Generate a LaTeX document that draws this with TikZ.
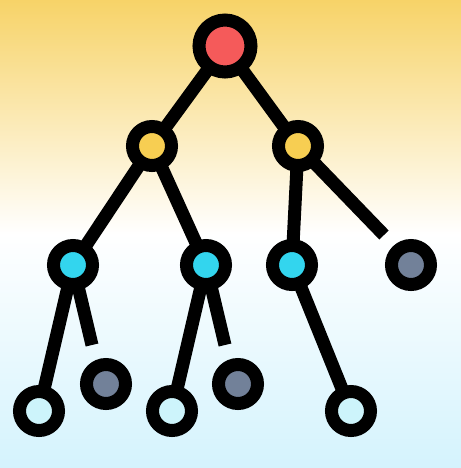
\documentclass[tikz,border=0pt]{standalone}
\usepackage{tikz}

\definecolor{topyellow}{RGB}{247,211,104}
\definecolor{lowblue}{RGB}{212,243,253}
\definecolor{rootred}{RGB}{245,90,90}
\definecolor{midyellow}{RGB}{247,206,82}
\definecolor{leafcyan}{RGB}{51,213,238}
\definecolor{leafgray}{RGB}{114,129,153}
\definecolor{palecyan}{RGB}{205,244,251}

\pgfdeclarelayer{bg}
\pgfdeclarelayer{edges}
\pgfsetlayers{bg,edges,main}

\tikzset{
   treenode/.style={circle, draw=black, line width=0.26cm, inner sep=0pt, minimum size=0.78cm},
   rootnode/.style={treenode, minimum size=1.04cm},
   branch/.style={line width=0.26cm, line cap=butt}
}

\begin{document}
\begin{tikzpicture}[x=0.02cm, y=-0.02cm]
   % background
   \begin{pgfonlayer}{bg}
      \shade[top color=topyellow, bottom color=lowblue, middle color=white] (0,0) rectangle (461,468);
   \end{pgfonlayer}
   \useasboundingbox (0,0) rectangle (461,468);

   \node[rootnode, fill=rootred] (root) at (225,46) {};

   \node[treenode, fill=midyellow] (l1) at (152,146) {};
   \node[treenode, fill=midyellow] (r1) at (298,146) {};

   \node[treenode, fill=leafcyan] (a) at (73,265) {};
   \node[treenode, fill=leafcyan] (b) at (206,265) {};
   \node[treenode, fill=leafcyan] (c) at (292,265) {};
   \node[treenode, fill=leafgray] (d) at (411,265) {};

   \node[treenode, fill=palecyan] (a1) at (39,411) {};
   \node[treenode, fill=leafgray] (a2) at (106,384) {};
   \node[treenode, fill=palecyan] (b1) at (172,411) {};
   \node[treenode, fill=leafgray] (b2) at (238,384) {};
   \node[treenode, fill=palecyan] (c1) at (351,411) {};

   % loose ends
   \coordinate (dend) at (384,235);
   \coordinate (aend) at (92,345);
   \coordinate (bend) at (225,345);

   \begin{pgfonlayer}{edges}
      \draw[branch] (root.center) -- (l1.center);
      \draw[branch] (root.center) -- (r1.center);
      \draw[branch] (l1.center) -- (a.center);
      \draw[branch] (l1.center) -- (b.center);
      \draw[branch] (r1.center) -- (c.center);
      \draw[branch] (r1.center) -- (dend);
      \draw[branch] (a.center) -- (a1.center);
      \draw[branch] (a.center) -- (aend);
      \draw[branch] (b.center) -- (b1.center);
      \draw[branch] (b.center) -- (bend);
      \draw[branch] (c.center) -- (c1.center);
   \end{pgfonlayer}
\end{tikzpicture}
\end{document}
